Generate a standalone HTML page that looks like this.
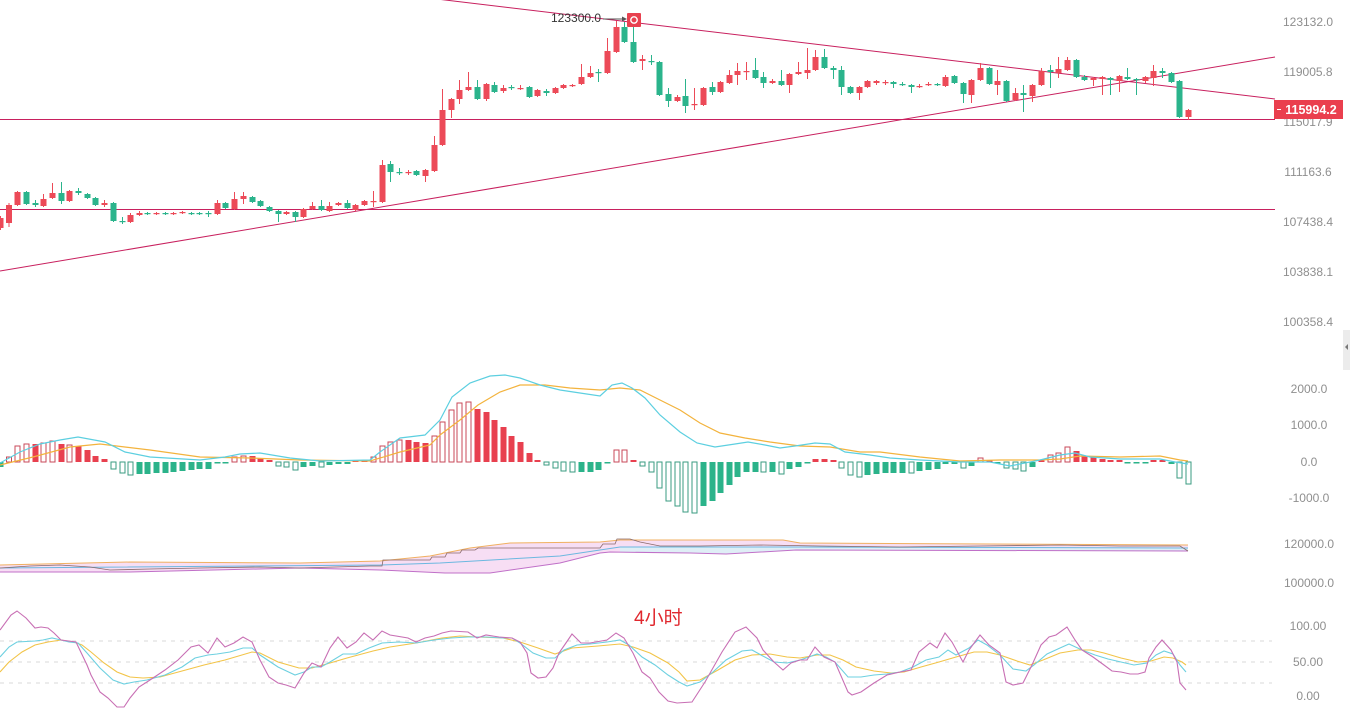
<!DOCTYPE html>
<html><head><meta charset="utf-8"><style>
html,body{margin:0;padding:0;background:#fff;width:1350px;height:709px;overflow:hidden}
svg{display:block}
text{font-family:"Liberation Sans","Noto Sans CJK SC",sans-serif}
</style></head><body>
<svg id="c" width="1350" height="709" viewBox="0 0 1350 709" xmlns="http://www.w3.org/2000/svg">
<rect width="1350" height="709" fill="#fff"/>
<g id="g"></g>
<g font-size="12" fill="#8f8f8f" text-anchor="middle">
<text x="1308" y="26">123132.0</text>
<text x="1308" y="76">119005.8</text>
<text x="1308" y="126">115017.9</text>
<text x="1308" y="176">111163.6</text>
<text x="1308" y="226">107438.4</text>
<text x="1308" y="276">103838.1</text>
<text x="1308" y="326">100358.4</text>
<text x="1309" y="393">2000.0</text>
<text x="1309" y="429">1000.0</text>
<text x="1309" y="466">0.0</text>
<text x="1309" y="502">-1000.0</text>
<text x="1309" y="548">120000.0</text>
<text x="1309" y="587">100000.0</text>
<text x="1308" y="630">100.00</text>
<text x="1308" y="666">50.00</text>
<text x="1308" y="700">0.00</text>
</g>
<rect x="1274" y="100" width="69" height="19" fill="#ea3f4e"/>
<line x1="1277" y1="109.5" x2="1281" y2="109.5" stroke="#fff" stroke-width="1"/>
<text x="1311" y="114" font-size="12.5" fill="#fff" text-anchor="middle" font-weight="bold">115994.2</text>
<rect x="1343" y="330" width="7" height="40" fill="#ececec"/>
<polygon points="1345,347 1348,344 1348,350" fill="#777"/>
<text x="551" y="22" font-size="12" fill="#333">123300.0</text>
<line x1="603" y1="19" x2="623" y2="19" stroke="#555" stroke-width="1"/>
<polygon points="627,19 622,16.5 622,21.5" fill="#555"/>
<rect x="627" y="13" width="14" height="14" fill="#e8414f" rx="1"/>
<circle cx="634" cy="20" r="3.2" fill="none" stroke="#fff" stroke-width="1.4"/>
<text x="634" y="624" font-size="19" fill="#e0282e">4小时</text>
</svg>
<script>
var R='#ec4a58',G='#2bb48c',LN='#c8205e';
var s='';
function pl(p,col,w,extra){return '<polyline fill="none" stroke="'+col+'" stroke-width="'+(w||1)+'" '+(extra||'')+' points="'+p.map(function(a){return a[0]+','+a[1]}).join(' ')+'"/>';}
s+='<line x1="0" y1="119.5" x2="1275" y2="119.5" stroke="'+LN+'" stroke-width="1"/>';
s+='<line x1="0" y1="209.5" x2="1275" y2="209.5" stroke="'+LN+'" stroke-width="1"/>';
s+='<line x1="420" y1="-3" x2="1275" y2="99" stroke="'+LN+'" stroke-width="1"/>';
s+='<line x1="0" y1="271" x2="1275" y2="57" stroke="'+LN+'" stroke-width="1"/>';
var C=[[0,218,228,216,230,'r'],[8.5,205,223,203,227,'r'],[17,192,205,191,206,'r'],[26,192,204,191,205,'g'],[35,203,205,200,207,'g'],[43,199,206,194,207,'r'],[52,193,198,183,199,'r'],[61,193,201,182,204,'g'],[69,191,201,190,202,'r'],[78,191,193,188,195,'g'],[87,194,198,193,199,'g'],[95,198,205,197,206,'g'],[104,203,205,200,207,'r'],[113,203,221,202,222,'g'],[122,221,222,217,224,'g'],[130,215,222,213,223,'r'],[139,213,215,211,216,'r'],[147,213,214,212,215,'g'],[156,213,214,212,215,'r'],[165,213,214,212,215,'g'],[173,213,214,212,215,'r'],[182,212,213,211,214,'r'],[191,213,214,212,215,'g'],[199,213,214,212,215,'g'],[208,213,214,211,217,'g'],[217,203,214,200,215,'r'],[225,203,208,202,209,'g'],[234,199,209,192,210,'r'],[243,196,199,192,204,'r'],[252,197,202,196,203,'g'],[260,201,206,200,207,'g'],[269,207,211,206,212,'g'],[278,211,214,210,222,'g'],[286,212,214,211,215,'r'],[295,212,217,211,222,'g'],[303,209,217,208,218,'r'],[312,206,209,202,210,'r'],[321,206,210,200,211,'g'],[329,206,211,202,212,'r'],[338,203,205,202,206,'r'],[347,203,208,200,209,'g'],[355,205,210,204,211,'r'],[364,201,205,200,206,'r'],[373,201,202,191,207,'r'],[382,165,202,160,203,'r'],[390,164,172,161,182,'g'],[399,172,173,168,175,'g'],[408,172,173,170,175,'r'],[416,171,175,170,176,'g'],[425,170,176,169,182,'r'],[434,145,171,136,172,'r'],[442,110,145,89,146,'r'],[451,99,110,98,118,'r'],[459,90,99,80,104,'r'],[468,87,90,72,91,'r'],[477,87,99,80,100,'g'],[486,84,99,83,101,'r'],[494,85,92,82,93,'g'],[503,88,91,85,93,'r'],[511,87,88,85,90,'g'],[520,88,89,85,90,'r'],[529,87,97,86,98,'g'],[537,90,96,89,97,'r'],[546,91,93,89,96,'g'],[555,88,93,87,94,'r'],[563,85,88,84,89,'r'],[572,85,86,84,87,'r'],[581,77,84,64,85,'r'],[590,73,77,66,78,'r'],[598,72,73,69,82,'g'],[607,51,73,38,74,'r'],[616,27,52,21,53,'r'],[624,27,42,22,43,'g'],[633,42,62,19,63,'g'],[642,59,61,55,70,'r'],[651,61,62,55,65,'g'],[659,62,95,61,96,'g'],[668,94,101,88,107,'g'],[677,97,101,95,102,'r'],[685,96,106,79,113,'g'],[694,104,105,88,110,'r'],[703,88,105,87,106,'r'],[712,87,92,82,95,'g'],[720,82,92,81,93,'r'],[729,75,83,70,84,'r'],[737,71,75,63,85,'r'],[746,71,72,62,80,'r'],[755,70,78,58,79,'g'],[763,77,83,72,88,'g'],[772,81,83,79,84,'r'],[781,81,85,70,86,'g'],[789,74,85,73,93,'r'],[798,72,74,62,75,'r'],[807,70,73,48,79,'r'],[815,57,70,50,71,'r'],[824,57,68,49,69,'g'],[833,68,70,66,79,'g'],[841,70,87,66,95,'g'],[850,87,93,86,94,'g'],[859,87,93,86,100,'r'],[867,81,87,80,88,'r'],[876,81,83,80,85,'r'],[885,82,83,80,85,'r'],[893,82,84,81,88,'g'],[902,84,85,82,86,'g'],[911,85,87,84,93,'g'],[919,86,87,84,88,'r'],[928,84,85,82,86,'r'],[937,84,85,83,86,'g'],[945,77,86,75,87,'r'],[954,76,83,75,84,'g'],[963,83,94,82,103,'g'],[971,80,95,79,103,'r'],[980,68,80,63,81,'r'],[989,68,84,67,85,'g'],[997,81,85,70,95,'r'],[1006,81,101,80,102,'g'],[1015,93,100,88,101,'r'],[1023,93,95,85,112,'g'],[1032,85,96,84,102,'r'],[1041,71,85,68,86,'r'],[1050,70,72,65,88,'g'],[1058,69,73,57,78,'r'],[1067,60,70,57,71,'r'],[1076,60,77,59,78,'g'],[1084,77,80,75,81,'g'],[1093,78,80,77,86,'r'],[1102,77,79,76,95,'r'],[1110,78,80,77,95,'g'],[1119,76,81,75,92,'r'],[1127,77,79,68,80,'g'],[1136,79,80,78,95,'g'],[1145,77,81,76,83,'r'],[1153,71,78,65,86,'r'],[1162,71,73,68,78,'g'],[1171,73,82,72,83,'g'],[1179,81,117,80,118,'g'],[1188,110,117,109,120,'r']];
C.forEach(function(c){var col=c[5]=='r'?R:G;var x=c[0];
s+='<line x1="'+(x+0.5)+'" y1="'+c[3]+'" x2="'+(x+0.5)+'" y2="'+c[4]+'" stroke="'+col+'" stroke-width="1"/>';
s+='<rect x="'+(x-2.5)+'" y="'+c[1]+'" width="6" height="'+Math.max(1.2,c[2]-c[1])+'" fill="'+col+'"/>';});
var Z=462;
var M=[[0,467,'gf'],[8.5,457,'rh'],[17,446,'rh'],[26,444,'rh'],[35,444,'rf'],[43,443,'rh'],[52,441,'rh'],[61,444,'rf'],[69,445,'rh'],[78,446,'rf'],[87,450,'rf'],[95,456,'rf'],[104,459,'rf'],[113,469,'gh'],[122,473,'gh'],[130,475,'gh'],[139,474,'gf'],[147,474,'gf'],[156,473,'gf'],[165,473,'gf'],[173,472,'gf'],[182,471,'gf'],[191,470,'gf'],[199,469,'gf'],[208,469,'gf'],[217,463.5,'gf'],[225,463.5,'gf'],[234,457,'rh'],[243,456,'rh'],[252,456,'rf'],[260,458,'rf'],[269,460,'rf'],[278,466,'gh'],[286,467,'gh'],[295,470,'gh'],[303,467,'gf'],[312,466,'gf'],[321,467,'gh'],[329,465,'gf'],[338,464,'gf'],[347,464,'gf'],[355,460,'rf'],[364,460,'rf'],[373,457,'rh'],[382,446,'rh'],[390,442,'rh'],[399,440,'rh'],[408,440,'rf'],[416,442,'rf'],[425,443,'rf'],[434,436,'rh'],[442,422,'rh'],[451,410,'rh'],[459,403,'rh'],[468,402,'rh'],[477,409,'rf'],[486,412,'rf'],[494,420,'rf'],[503,427,'rf'],[511,436,'rf'],[520,442,'rf'],[529,453,'rf'],[537,460,'rf'],[546,465,'gh'],[555,468,'gh'],[563,471,'gh'],[572,472,'gh'],[581,472,'gf'],[590,472,'gf'],[598,470,'gf'],[607,463.5,'gf'],[616,450,'rh'],[624,450,'rh'],[633,460,'rf'],[642,466,'gh'],[651,472,'gh'],[659,488,'gh'],[668,501,'gh'],[677,506,'gh'],[685,512,'gh'],[694,513,'gh'],[703,506,'gf'],[712,501,'gf'],[720,493,'gf'],[729,485,'gf'],[737,477,'gf'],[746,472,'gf'],[755,472,'gf'],[763,472,'gh'],[772,472,'gf'],[781,474,'gh'],[789,469,'gf'],[798,467,'gf'],[807,463.5,'gf'],[815,459,'rf'],[824,459,'rf'],[833,460,'rf'],[841,468,'gh'],[850,475,'gh'],[859,477,'gh'],[867,475,'gf'],[876,474,'gf'],[885,473,'gf'],[893,473,'gf'],[902,473,'gf'],[911,473,'gh'],[919,471,'gf'],[928,470,'gf'],[937,469,'gf'],[945,464,'gf'],[954,464,'gf'],[963,468,'gh'],[971,466,'gf'],[980,458,'rh'],[989,460.5,'rf'],[997,463.5,'gf'],[1006,468,'gh'],[1015,469,'gh'],[1023,471,'gh'],[1032,467,'gf'],[1041,460.5,'rf'],[1050,455,'rh'],[1058,453,'rh'],[1067,447,'rh'],[1076,451,'rf'],[1084,456,'rf'],[1093,457,'rf'],[1102,459,'rf'],[1110,460,'rf'],[1119,460,'rf'],[1127,463.5,'gf'],[1136,463.5,'gf'],[1145,463.5,'gf'],[1153,460,'rf'],[1162,460,'rf'],[1171,464,'gf'],[1179,478,'gh'],[1188,484,'gh']];
M.forEach(function(m){var x=m[0],y=m[1],t=m[2];var top=Math.min(y,Z),h=Math.max(1.5,Math.abs(y-Z));
if(t=='rf')s+='<rect x="'+(x-2.5)+'" y="'+top+'" width="6" height="'+h+'" fill="#e8404f"/>';
else if(t=='gf')s+='<rect x="'+(x-2.5)+'" y="'+top+'" width="6" height="'+h+'" fill="#2bb38a"/>';
else{var col=t=='rh'?'#c8485a':'#3a9b80';s+='<rect x="'+(x-2)+'" y="'+top+'" width="5" height="'+h+'" fill="#fff" stroke="'+col+'" stroke-width="1"/>';}});
var DIF=[[0,463],[20,452],[40,444],[60,440],[78,437],[105,442],[125,452],[150,457],[200,460],[225,457],[240,454],[260,453],[290,458],[320,461],[370,460],[380,452],[400,438],[425,435],[440,420],[452,397],[470,383],[490,376],[505,375],[520,378],[540,385],[560,390],[580,393],[600,396],[612,385],[622,383],[632,388],[645,398],[660,415],[680,432],[697,443],[715,447],[735,444],[748,442],[765,445],[780,448],[795,446],[815,443],[830,444],[845,452],[870,455],[890,458],[920,460],[960,462],[990,462],[1010,466],[1040,460],[1060,455],[1075,453],[1090,457],[1120,459],[1160,459],[1175,462],[1188,464]];
var DEA=[[0,465],[33,457],[70,447],[100,444],[150,450],[200,457],[250,458],[300,460],[370,461],[400,452],[430,445],[440,435],[460,420],[478,405],[500,392],[520,385],[545,385],[570,388],[600,390],[620,388],[640,390],[660,400],[680,410],[700,423],[720,433],[745,438],[770,442],[800,446],[830,447],[860,452],[880,452],[920,457],[960,461],[1000,460],[1040,460],[1060,459],[1080,456],[1120,457],[1160,456],[1180,460],[1188,461]];
s+=pl(DEA,'#f3b33d',1.2);s+=pl(DIF,'#5ccfe0',1.2);
var UP=[[0,565],[130,562],[300,563],[380,561],[430,556],[470,548],[510,543],[600,542],[620,540],[783,540],[800,543],[1188,545]];
var MID=[[0,568],[380,565],[440,563],[560,556],[600,550],[620,547],[800,547],[1188,548]];
var LO=[[0,572],[130,572],[300,568],[380,570],[445,573],[490,573],[560,563],[600,553],[610,552],[690,553],[726,554],[796,550],[1188,551]];
var fill=UP.concat(LO.slice().reverse());
s+='<polygon fill="#f6d8f2" fill-opacity="0.85" points="'+fill.map(function(a){return a[0]+','+a[1]}).join(' ')+'"/>';
s+='<polygon fill="#d8f1f6" fill-opacity="0.8" points="620,547 800,547 1188,548 1188,551 796,550 726,554 690,553 620,552"/>';
s+=pl(UP,'#f0b060',1);s+=pl(MID,'#6cb8e0',1);s+=pl(LO,'#c070c8',1);
var PR=[[0,568],[30,566],[60,565],[90,567],[110,570],[150,569],[200,568],[260,567],[300,568],[370,566],[382,566],[383,560],[430,560],[432,557],[445,557],[447,553],[460,553],[462,550],[475,550],[478,548],[600,548],[603,544],[615,544],[617,539],[630,539],[640,542],[660,546],[700,546],[760,545],[820,546],[900,547],[980,546],[1060,545],[1120,546],[1180,546],[1188,551]];
s+=pl(PR,'#8a6a6a',0.8);
[641,662,683].forEach(function(y){s+='<line x1="0" y1="'+y+'" x2="1272" y2="'+y+'" stroke="#d8d8d8" stroke-width="1" stroke-dasharray="4,5"/>';});
var J=[[0,630],[11,615],[17,611],[26,618],[35,628],[41,627],[48,628],[54,633],[61,640],[76,642],[87,665],[91,675],[100,692],[108,698],[117,707],[124,707],[130,698],[139,687],[150,680],[165,670],[178,660],[191,647],[199,645],[208,653],[217,638],[225,647],[234,643],[243,637],[252,642],[260,660],[269,677],[278,683],[286,685],[295,688],[304,673],[312,663],[321,667],[330,648],[338,637],[347,648],[356,642],[364,633],[373,640],[382,631],[390,635],[408,638],[416,642],[425,638],[434,636],[442,633],[451,631],[468,632],[477,638],[486,635],[499,637],[512,638],[520,642],[527,653],[531,673],[538,678],[546,677],[553,668],[559,653],[568,640],[572,634],[581,643],[590,643],[607,640],[616,633],[624,638],[633,653],[642,672],[650,678],[659,692],[668,701],[677,703],[692,702],[705,682],[722,652],[735,632],[746,627],[757,638],[763,650],[774,662],[783,670],[791,663],[800,660],[807,660],[815,647],[824,657],[835,662],[848,692],[852,695],[861,692],[874,683],[887,675],[900,672],[911,670],[919,652],[930,643],[937,648],[945,633],[952,642],[963,662],[969,650],[980,635],[989,645],[1000,653],[1006,682],[1013,685],[1023,683],[1032,665],[1041,645],[1049,637],[1056,635],[1067,627],[1075,640],[1082,650],[1093,657],[1104,665],[1112,671],[1121,672],[1130,674],[1138,674],[1145,672],[1149,658],[1156,647],[1162,640],[1171,650],[1177,662],[1180,683],[1186,690]];
var K=[[0,657],[9,647],[17,642],[35,641],[43,640],[52,638],[61,640],[69,642],[78,643],[87,653],[100,668],[113,680],[124,684],[134,682],[147,680],[165,675],[182,667],[195,658],[208,655],[217,654],[230,652],[243,648],[252,648],[260,655],[278,667],[295,675],[304,672],[312,667],[321,667],[330,662],[343,654],[356,654],[369,648],[382,643],[399,642],[416,643],[434,640],[451,638],[468,637],[486,637],[503,638],[512,638],[520,643],[533,653],[546,658],[555,658],[564,650],[577,645],[590,644],[607,642],[620,640],[629,645],[642,657],[655,665],[668,675],[679,682],[687,686],[700,682],[713,672],[726,660],[742,651],[752,650],[761,655],[774,662],[787,663],[800,660],[809,657],[817,654],[826,657],[835,662],[848,677],[861,677],[874,675],[887,674],[900,672],[913,667],[926,660],[939,657],[948,650],[956,655],[969,648],[978,640],[987,645],[1000,655],[1013,669],[1026,671],[1034,665],[1047,654],[1060,648],[1069,644],[1082,650],[1095,655],[1108,659],[1121,662],[1134,665],[1147,663],[1156,655],[1164,651],[1173,654],[1180,665],[1186,672]];
var D=[[0,672],[9,662],[22,652],[35,645],[48,642],[61,640],[74,642],[82,645],[91,652],[104,663],[117,672],[130,677],[143,678],[160,677],[182,671],[204,665],[225,660],[252,652],[260,653],[278,662],[299,668],[312,668],[330,663],[347,658],[373,651],[390,647],[416,643],[442,638],[460,636],[477,637],[503,638],[520,642],[538,648],[555,654],[572,648],[598,646],[620,644],[633,647],[650,653],[668,663],[679,672],[687,681],[700,680],[718,670],[735,660],[752,655],[770,654],[787,657],[800,658],[817,655],[830,655],[843,660],[856,667],[874,671],[891,673],[904,672],[921,667],[939,662],[956,657],[974,652],[987,652],[1000,655],[1017,661],[1030,665],[1043,660],[1060,653],[1078,650],[1091,650],[1104,653],[1121,658],[1138,662],[1151,661],[1164,657],[1173,658],[1182,662],[1186,665]];
s+=pl(D,'#f2c448',1.1);s+=pl(K,'#6dd0e0',1.1);s+=pl(J,'#c86fb4',1.1);
document.getElementById('g').innerHTML=s;
</script>
</body></html>
